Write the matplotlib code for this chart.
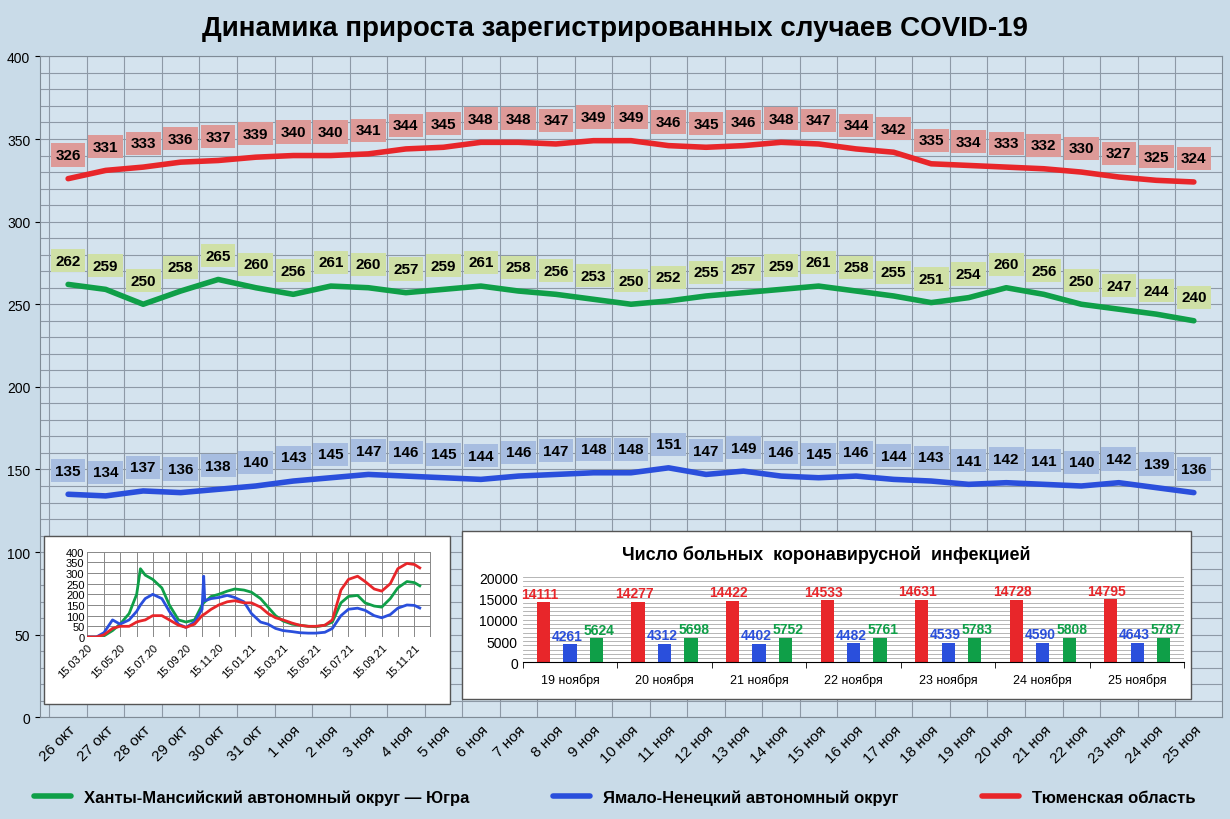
import matplotlib
matplotlib.use("Agg")
import matplotlib.pyplot as plt
import pandas as pd
import numpy as np

# ---------------------------------------------------------------------------
# Data
# ---------------------------------------------------------------------------

days = ["26 окт", "27 окт", "28 окт", "29 окт", "30 окт", "31 окт",
        "1 ноя", "2 ноя", "3 ноя", "4 ноя", "5 ноя", "6 ноя", "7 ноя", "8 ноя",
        "9 ноя", "10 ноя", "11 ноя", "12 ноя", "13 ноя", "14 ноя", "15 ноя",
        "16 ноя", "17 ноя", "18 ноя", "19 ноя", "20 ноя", "21 ноя", "22 ноя",
        "23 ноя", "24 ноя", "25 ноя"]
tyumen = [326, 331, 333, 336, 337, 339, 340, 340, 341, 344, 345, 348, 348, 347,
          349, 349, 346, 345, 346, 348, 347, 344, 342, 335, 334, 333, 332, 330,
          327, 325, 324]
hmao = [262, 259, 250, 258, 265, 260, 256, 261, 260, 257, 259, 261, 258, 256,
        253, 250, 252, 255, 257, 259, 261, 258, 255, 251, 254, 260, 256, 250,
        247, 244, 240]
yanao = [135, 134, 137, 136, 138, 140, 143, 145, 147, 146, 145, 144, 146, 147,
         148, 148, 151, 147, 149, 146, 145, 146, 144, 143, 141, 142, 141, 140,
         142, 139, 136]

# small overview inset (whole pandemic, approx. read off)
hist_dates = ["2020-03-15", "2020-04-01", "2020-04-15", "2020-05-01", "2020-05-15",
              "2020-06-01", "2020-06-15", "2020-06-22", "2020-07-01", "2020-07-15",
              "2020-08-01", "2020-08-15", "2020-09-01", "2020-09-15", "2020-10-01",
              "2020-10-15", "2020-10-18", "2020-10-20", "2020-11-01", "2020-11-15",
              "2020-12-01", "2020-12-15", "2021-01-01", "2021-01-15", "2021-02-01",
              "2021-02-15", "2021-03-01", "2021-03-15", "2021-04-01", "2021-04-15",
              "2021-05-01", "2021-05-15", "2021-06-01", "2021-06-15", "2021-07-01",
              "2021-07-15", "2021-08-01", "2021-08-15", "2021-09-01", "2021-09-15",
              "2021-10-01", "2021-10-15", "2021-11-01", "2021-11-15", "2021-11-25"]
hist_red = [0, 0, 10, 40, 50, 50, 70, 75, 80, 100, 100, 80, 55, 45, 60, 100, 105, 108,
            130, 150, 165, 170, 160, 160, 140, 110, 90, 80, 65, 55, 50, 50, 55, 80,
            220, 270, 285, 260, 225, 215, 250, 320, 345, 340, 324]
hist_green = [0, 0, 5, 30, 60, 110, 200, 320, 290, 270, 230, 150, 80, 70, 80, 150,
              160, 165, 190, 200, 215, 225, 220, 210, 180, 140, 100, 75, 60, 55, 50,
              48, 55, 70, 160, 190, 195, 160, 145, 140, 180, 230, 260, 255, 240]
hist_blue = [0, 0, 20, 80, 60, 80, 120, 150, 180, 200, 180, 120, 60, 45, 70, 130, 285,
             170, 180, 185, 195, 185, 165, 110, 70, 60, 40, 30, 25, 20, 18, 18, 22,
             40, 100, 130, 135, 125, 100, 90, 105, 135, 150, 148, 136]

bar_days = ["19 ноября", "20 ноября", "21 ноября", "22 ноября", "23 ноября",
            "24 ноября", "25 ноября"]
bar_tyumen = [14111, 14277, 14422, 14533, 14631, 14728, 14795]
bar_yanao = [4261, 4312, 4402, 4482, 4539, 4590, 4643]
bar_hmao = [5624, 5698, 5752, 5761, 5783, 5808, 5787]

RED = "#e8262a"
GREEN = "#0f9f48"
BLUE = "#2a4fdc"
BOX_RED = "#dd9a98"
BOX_GREEN = "#cfe0a6"
BOX_BLUE = "#a7bde0"

plt.rcParams["font.family"] = ["Liberation Sans", "DejaVu Sans"]

fig = plt.figure(figsize=(12.3, 8.2), dpi=100)
fig.patch.set_facecolor("#c9dbe8")

# ---------------------------------------------------------------------------
# Main chart
# ---------------------------------------------------------------------------

ax = fig.add_axes([0.0325, 0.124, 0.961, 0.806])
ax.set_facecolor("#d4e3ee")
x = np.arange(len(days))
ax.set_xlim(-0.75, len(days) - 0.25)
ax.set_ylim(0, 400)
ax.set_yticks(np.arange(0, 401, 50))
ax.set_yticks(np.arange(0, 401, 10), minor=True)
ax.tick_params(axis="y", which="minor", length=0)
ax.tick_params(axis="y", labelsize=10)
ax.grid(axis="y", which="both", color="#8d99a6", linewidth=0.8)
ax.set_xticks(x - 0.5, minor=True)
ax.grid(axis="x", which="minor", color="#8d99a6", linewidth=0.8)
ax.set_xticks(x)
ax.set_xticklabels(days, rotation=45, ha="right", rotation_mode="anchor", fontsize=11)
ax.tick_params(axis="x", which="both", length=0)
ax.set_axisbelow(True)
for s in ax.spines.values():
    s.set_color("#7f8b96")

series = [(tyumen, RED, BOX_RED, "Тюменская область"),
          (hmao, GREEN, BOX_GREEN, "Ханты-Мансийский автономный округ — Югра"),
          (yanao, BLUE, BOX_BLUE, "Ямало-Ненецкий автономный округ")]
lines = {}
for vals, col, box, name in series:
    ln, = ax.plot(x, vals, color=col, linewidth=4, label=name, solid_capstyle="round")
    lines[name] = ln
    for xi, v in zip(x, vals):
        ax.annotate(str(v), (xi, v), xytext=(0, 17), textcoords="offset points",
                    ha="center", va="center", fontsize=11, fontweight="bold",
                    bbox=dict(boxstyle="square,pad=0.3", fc=box, ec="none"))

fig.text(0.5, 0.965, "Динамика прироста зарегистрированных случаев COVID-19",
         ha="center", va="center", fontsize=20, fontweight="bold")

order = ["Ханты-Мансийский автономный округ — Югра",
         "Ямало-Ненецкий автономный округ", "Тюменская область"]
fig.legend([lines[n] for n in order], order, loc="center", ncol=3,
           bbox_to_anchor=(0.5, 0.027), frameon=False,
           handlelength=2.2, columnspacing=5,
           prop={"weight": "bold", "size": 12})

# ---------------------------------------------------------------------------
# Inset: whole history
# ---------------------------------------------------------------------------

fig.patches.append(plt.Rectangle((0.036, 0.14), 0.33, 0.205, transform=fig.transFigure,
                                 fc="white", ec="#555555", lw=1, zorder=2))
ax1 = fig.add_axes([0.071, 0.222, 0.279, 0.104], zorder=3)
hd = pd.to_datetime(hist_dates)
ax1.plot(hd, hist_green, color=GREEN, lw=2)
ax1.plot(hd, hist_blue, color=BLUE, lw=2)
ax1.plot(hd, hist_red, color=RED, lw=2)
ax1.set_ylim(0, 400)
ax1.set_yticks(np.arange(0, 401, 50))
ax1.set_xlim(pd.Timestamp("2020-03-15"), pd.Timestamp("2021-12-01"))
ticks = pd.to_datetime(["2020-03-15", "2020-05-15", "2020-07-15", "2020-09-15",
                        "2020-11-15", "2021-01-15", "2021-03-15", "2021-05-15",
                        "2021-07-15", "2021-09-15", "2021-11-15"])
ax1.set_xticks(ticks)
ax1.set_xticklabels([t.strftime("%d.%m.%y") for t in ticks], rotation=45,
                    ha="right", rotation_mode="anchor", fontsize=8)
ax1.set_xticks(pd.date_range("2020-03-15", "2021-12-15", freq="MS") + pd.Timedelta(days=14),
               minor=True)
ax1.grid(axis="x", which="both", color="#888888", lw=0.7)
ax1.grid(axis="y", color="#888888", lw=0.7)
ax1.tick_params(axis="y", labelsize=8, length=0, pad=2)
ax1.tick_params(axis="x", which="both", length=0)
for s in ax1.spines.values():
    s.set_visible(False)

# ---------------------------------------------------------------------------
# Inset: bar chart
# ---------------------------------------------------------------------------

fig.patches.append(plt.Rectangle((0.376, 0.146), 0.592, 0.205, transform=fig.transFigure,
                                 fc="white", ec="#555555", lw=1, zorder=2))
fig.text(0.672, 0.323, "Число больных  коронавирусной  инфекцией", ha="center",
         va="center", fontsize=13, fontweight="bold", zorder=4)
ax2 = fig.add_axes([0.425, 0.191, 0.538, 0.104], zorder=3)
ax2.patch.set_alpha(0)
bx = np.arange(len(bar_days))
w = 0.14
for off, vals, col in [(-0.28, bar_tyumen, RED), (0, bar_yanao, BLUE), (0.28, bar_hmao, GREEN)]:
    ax2.bar(bx + off, vals, width=w, color=col)
    for xi, v in zip(bx + off, vals):
        dx = -0.04 if col == RED else (-0.03 if col == BLUE else 0.03)
        ax2.text(xi + dx, v + 400, str(v), ha="center", va="bottom", color=col,
                 fontsize=10, fontweight="bold")
ax2.set_ylim(0, 20000)
ax2.set_yticks(np.arange(0, 20001, 5000))
ax2.set_yticks(np.arange(0, 20001, 1000), minor=True)
ax2.grid(axis="y", which="both", color="#aaaaaa", lw=0.6)
ax2.set_axisbelow(True)
ax2.set_xlim(-0.5, len(bar_days) - 0.5)
ax2.set_xticks(bx)
ax2.set_xticklabels(bar_days, fontsize=9)
ax2.set_xticks(np.arange(-0.5, len(bar_days), 1), minor=True)
ax2.tick_params(axis="x", which="major", length=0, pad=8)
ax2.tick_params(axis="x", which="minor", length=4)
ax2.tick_params(axis="y", which="both", labelsize=10, length=0)
for k in ["top", "right", "left"]:
    ax2.spines[k].set_visible(False)

fig.savefig("out.png", dpi=100)
